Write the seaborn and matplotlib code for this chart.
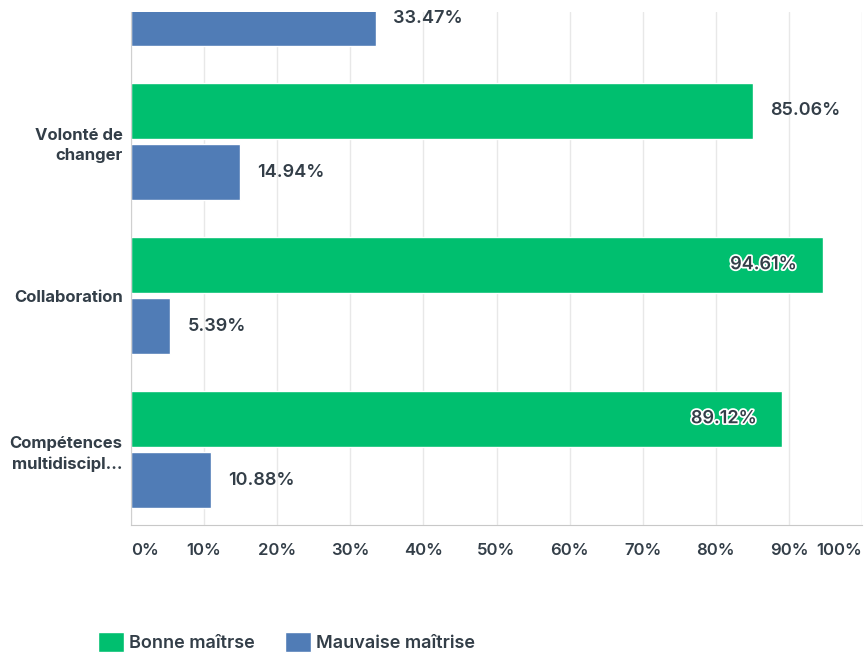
import matplotlib
matplotlib.use("Agg")
import matplotlib.pyplot as plt
import matplotlib.patheffects as pe
import seaborn as sns
import pandas as pd

categories = ["", "Volonté de\nchanger", "Collaboration", "Compétences\nmultidiscipl..."]
series = ["Bonne maîtrse", "Mauvaise maîtrise"]
bonne = [66.53, 85.06, 94.61, 89.12]
mauvaise = [33.47, 14.94, 5.39, 10.88]
xticks = [0, 10, 20, 30, 40, 50, 60, 70, 80, 90, 100]

rows = []
for c, b, m in zip(categories, bonne, mauvaise):
    rows.append({"cat": c, "serie": series[0], "val": b})
    rows.append({"cat": c, "serie": series[1], "val": m})
df = pd.DataFrame(rows)

sns.set_style("white")
plt.rcParams["font.family"] = ["Inter", "DejaVu Sans"]
TXT = "#333E48"

fig = plt.figure(figsize=(8.64, 6.53), dpi=100)
ax = fig.add_axes([131/864, 1-525/653, (862-131)/864, (525-12)/653])

sns.barplot(data=df, y="cat", x="val", hue="serie", orient="h",
            palette=["#00BF6F", "#507CB6"], width=0.8, gap=0.09,
            saturation=1, ax=ax, legend=True)

ax.set_xticks(xticks)
ax.set_xticklabels([f"{t}%" for t in xticks], fontsize=12, fontweight="semibold", color=TXT)
labs = ax.get_xticklabels()
labs[0].set_ha("left")
labs[-1].set_ha("right")
ax.tick_params(axis="x", length=0, pad=13)
ax.tick_params(axis="y", length=0, pad=6)
ax.set_yticks(range(len(categories)))
ax.set_yticklabels(categories, fontsize=12, fontweight="bold", color=TXT, ha="right",
                   linespacing=1.45)
ax.set_xlim(0, 100)
ax.set_ylim(3.49, 0.159)
ax.set_xlabel("")
ax.set_ylabel("")
ax.grid(axis="x", color="#E8E8E8", linewidth=1)
ax.set_axisbelow(True)
for s in ["top", "right"]:
    ax.spines[s].set_visible(False)
ax.spines["left"].set_color("#D0D0D0")
ax.spines["bottom"].set_color("#C8C8C8")

for cont, vals in zip(ax.containers, [bonne, mauvaise]):
    for patch, v in zip(cont.patches, vals):
        yc = patch.get_y() + patch.get_height() / 2
        if v > 88:
            t = ax.annotate(f"{v:.2f}%", (v, yc), xytext=(-18.5, 0), textcoords="offset points",
                            ha="right", va="center", fontsize=13, fontweight="semibold",
                            color=TXT, clip_on=False)
            t.set_path_effects([pe.withStroke(linewidth=2.5, foreground="white")])
        else:
            ax.annotate(f"{v:.2f}%", (v, yc), xytext=(12.5, 0), textcoords="offset points",
                        ha="left", va="center", fontsize=13, fontweight="semibold",
                        color=TXT, clip_on=False)

handles, labels = ax.get_legend_handles_labels()
ax.get_legend().remove()
fig.legend(handles, labels, loc="center left", bbox_to_anchor=(82/864, 1-642/653),
           ncol=2, frameon=False, handlelength=1.4, handleheight=1.4,
           handletextpad=0.3, columnspacing=1.7, labelcolor=TXT,
           prop={"weight": "semibold", "size": 13})

fig.savefig("out.png", dpi=100)
